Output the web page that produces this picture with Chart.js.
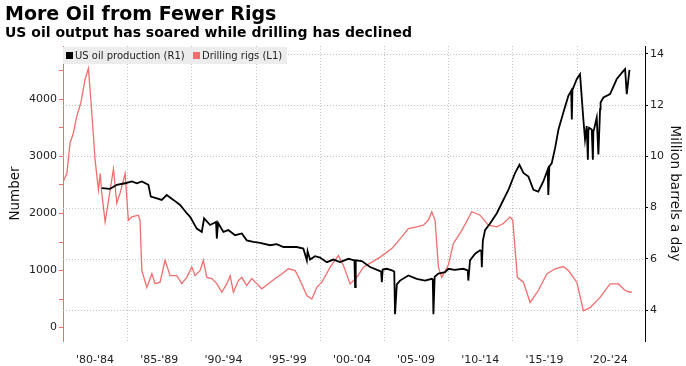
<!DOCTYPE html>
<html><head><meta charset="utf-8">
<script src="https://cdn.jsdelivr.net/npm/chart.js@4.4.1/dist/chart.umd.min.js"></script>
<style>
html,body{margin:0;padding:0;background:#fff;}
#wrap{position:relative;width:686px;height:366px;overflow:hidden;}
#c{position:absolute;left:0;top:0;}
.t1{position:absolute;left:5px;top:2px;font:bold 19px "DejaVu Sans";color:#000;white-space:nowrap;}
.t2{position:absolute;left:5px;top:24px;font:bold 14px "DejaVu Sans";color:#000;white-space:nowrap;}
#leg{position:absolute;left:63px;top:47px;width:224px;height:17px;background:#ececec;font:10px "DejaVu Sans";color:#222;white-space:nowrap;}
#leg span.sq{display:inline-block;width:7px;height:7px;margin-right:2px;vertical-align:0px;}
#leg .it{position:absolute;top:3px;}
</style></head>
<body><div id="wrap">
<canvas id="c" width="686" height="366"></canvas>
<div class="t1">More Oil from Fewer Rigs</div>
<div class="t2">US oil output has soared while drilling has declined</div>
<div id="leg"><span class="it" style="left:3px"><span class="sq" style="background:#000"></span>US oil production (R1)</span><span class="it" style="left:130px"><span class="sq" style="background:#f26d6d"></span>Drilling rigs (L1)</span></div>
</div>
<script>
const xTickLabels = ["'80-'84","'85-'89","'90-'94","'95-'99","'00-'04","'05-'09","'10-'14","'15-'19","'20-'24"];
const xGridYears = [1985,1990,1995,2000,2005,2010,2015,2020];
const rightTicks = [4,6,8,10,12,14];
const rigYears = [1980.0,1980.3,1980.55,1980.8,1981.07,1981.4,1981.72,1981.98,1982.2,1982.5,1982.76,1982.9,1983.0,1983.28,1983.67,1983.93,1984.19,1984.45,1984.84,1985.09,1985.36,1985.87,1986.0,1986.14,1986.53,1986.92,1987.17,1987.56,1987.95,1988.34,1988.86,1989.25,1989.64,1990.03,1990.29,1990.68,1990.93,1991.2,1991.59,1991.98,1992.37,1992.76,1993.02,1993.27,1993.66,1993.93,1994.31,1994.7,1995.09,1995.48,1996.0,1996.52,1997.04,1997.55,1998.08,1998.47,1998.99,1999.38,1999.77,2000.16,2000.81,2001.45,2001.84,2002.36,2002.88,2003.4,2004.7,2005.61,2006.39,2006.9,2007.55,2008.07,2008.46,2008.72,2008.98,2009.24,2009.5,2010.02,2010.4,2011.06,2011.84,2012.48,2013.13,2013.79,2014.3,2014.82,2015.03,2015.39,2015.86,2016.38,2017.02,2017.68,2018.33,2018.97,2019.36,2020.02,2020.53,2021.05,2021.83,2022.61,2023.26,2023.78,2024.16,2024.32];
const rigCounts = [2550,2700,3240,3400,3700,3950,4350,4540,3900,2940,2410,2700,2400,1850,2410,2780,2180,2360,2700,1880,1940,1970,1880,1000,705,945,770,795,1180,910,910,770,880,1060,910,1000,1180,880,860,770,620,770,910,620,825,880,735,860,770,680,770,860,940,1030,1000,825,560,500,705,795,1060,1265,1090,765,880,1060,1235,1385,1590,1735,1765,1795,1885,2030,1880,1060,880,1100,1470,1705,2030,1970,1795,1765,1825,1940,1880,880,795,440,650,940,1030,1070,1000,795,295,350,530,765,765,650,620,625];
const oilYears = [1983.02,1983.67,1984.19,1984.84,1985.36,1985.75,1986.14,1986.65,1986.84,1987.31,1987.69,1988.08,1988.6,1989.12,1989.64,1989.9,1990.42,1990.81,1990.99,1991.46,1991.92,1991.98,1992.08,1992.49,1992.88,1993.4,1993.93,1994.31,1994.83,1995.35,1996.13,1996.65,1997.17,1997.69,1998.21,1998.72,1998.99,1999.05,1999.24,1999.63,2000.02,2000.55,2001.06,2001.58,2002.23,2002.7,2002.75,2002.8,2003.27,2003.92,2004.56,2004.78,2004.83,2004.9,2005.22,2005.61,2005.8,2005.86,2006.0,2006.25,2006.9,2007.55,2008.2,2008.72,2008.8,2008.85,2008.95,2009.24,2009.76,2010.02,2010.5,2011.18,2011.52,2011.57,2011.7,2012.1,2012.48,2012.58,2012.62,2012.7,2012.87,2013.26,2013.79,2014.17,2014.69,2015.21,2015.55,2015.86,2016.25,2016.64,2017.02,2017.41,2017.75,2017.8,2017.88,2018.07,2018.33,2018.59,2018.97,2019.36,2019.58,2019.63,2019.68,2020.02,2020.27,2020.53,2020.66,2020.79,2020.88,2020.92,2020.97,2021.18,2021.27,2021.31,2021.36,2021.57,2021.7,2021.8,2021.83,2021.87,2022.09,2022.61,2023.13,2023.65,2023.78,2023.91,2024.12,2024.17,2024.22];
const oilOutput = [8.76,8.73,8.89,8.95,9.02,8.95,9.02,8.89,8.43,8.36,8.30,8.49,8.30,8.10,7.78,7.64,7.18,7.05,7.58,7.32,7.44,6.79,7.40,7.05,7.12,6.92,6.99,6.72,6.66,6.62,6.53,6.57,6.46,6.46,6.46,6.40,5.94,6.30,5.97,6.10,6.05,5.87,5.97,5.87,6.0,5.94,4.89,5.94,5.91,5.68,5.55,5.50,5.09,5.58,5.61,5.55,5.50,3.84,5.0,5.15,5.35,5.22,5.15,5.22,5.20,3.84,5.30,5.42,5.48,5.61,5.57,5.61,5.55,5.15,5.94,6.20,6.33,6.30,5.67,6.70,7.12,7.38,7.78,8.17,8.69,9.35,9.67,9.35,9.21,8.69,8.62,9.02,9.48,8.49,9.60,9.74,10.33,11.05,11.71,12.36,12.56,11.44,12.60,13.02,13.21,11.44,10.66,11.18,9.87,11.0,11.12,11.05,9.87,11.0,11.05,11.51,10.07,11.40,11.84,12.10,12.30,12.43,13.02,13.34,13.41,12.43,13.38];

const RED = '#f26d6d';
const toPts = (xs, ys) => xs.map((x, i) => ({x: x, y: ys[i]}));

const dottedGrid = {
  id: 'dottedGrid',
  beforeDatasetsDraw(ch) {
    const {ctx, chartArea: a} = ch;
    const x = ch.scales.x, yR = ch.scales.yR;
    ctx.save();
    ctx.strokeStyle = '#c4c4c4';
    ctx.lineWidth = 1;
    ctx.setLineDash([1, 2]);
    rightTicks.forEach(v => {
      const py = Math.round(yR.getPixelForValue(v)) + 0.5;
      ctx.beginPath(); ctx.moveTo(a.left, py); ctx.lineTo(a.right, py); ctx.stroke();
    });
    xGridYears.forEach(v => {
      const px = Math.round(x.getPixelForValue(v)) + 0.5;
      ctx.beginPath(); ctx.moveTo(px, a.top); ctx.lineTo(px, a.bottom); ctx.stroke();
    });
    ctx.restore();
  }
};

new Chart(document.getElementById('c'), {
  type: 'line',
  data: {
    datasets: [
      {label: 'US oil production (R1)', data: toPts(oilYears, oilOutput), yAxisID: 'yR', borderColor: '#000', borderWidth: 1.8, pointRadius: 0, tension: 0},
      {label: 'Drilling rigs (L1)', data: toPts(rigYears, rigCounts), yAxisID: 'yL', borderColor: RED, borderWidth: 1.3, pointRadius: 0, tension: 0}
    ]
  },
  options: {
    responsive: false, animation: false, events: [],
    layout: {padding: {top: 46, left: 0, right: 0, bottom: 0}},
    plugins: {legend: {display: false}, tooltip: {enabled: false}},
    scales: {
      x: {
        type: 'linear', min: 1980, max: 2025.33,
        afterBuildTicks: s => { s.ticks = xTickLabels.map((l, i) => ({value: 1982.5 + 5 * i})); },
        afterFit: s => { s.height = 25; },
        border: {display: false},
        grid: {display: false, drawTicks: false},
        ticks: {autoSkip: false, maxRotation: 0, padding: 13, color: '#222', font: {family: 'DejaVu Sans', size: 11},
          callback: v => { const k = Math.round((v - 1982.5) / 5); return xTickLabels[k] || ''; }}
      },
      yL: {
        position: 'left', min: -235, max: 4935,
        afterBuildTicks: s => { const t = []; for (let v = 0; v <= 4500; v += 500) t.push({value: v}); s.ticks = t; },
        afterFit: s => { s.width = 63; },
        border: {display: true, color: RED, width: 1},
        grid: {drawOnChartArea: false, drawTicks: true, tickLength: 4, tickColor: RED},
        ticks: {autoSkip: false, padding: 2, color: '#222', font: {family: 'DejaVu Sans', size: 11},
          callback: v => (v % 1000 === 0 ? String(v) : '')},
        title: {display: true, text: 'Number', color: '#111', font: {family: 'DejaVu Sans', size: 13.5}, padding: {top: 7, bottom: 0}}
      },
      yR: {
        position: 'right', min: 2.79, max: 14.31,
        afterBuildTicks: s => { s.ticks = rightTicks.map(v => ({value: v})); },
        afterFit: s => { s.width = 41; },
        border: {display: true, color: '#000', width: 1},
        grid: {drawOnChartArea: false, drawTicks: true, tickLength: 3, tickColor: '#000'},
        ticks: {autoSkip: false, padding: 2, color: '#222', font: {family: 'DejaVu Sans', size: 11}},
        title: {display: true, text: 'Million barrels a day', color: '#111', font: {family: 'DejaVu Sans', size: 13.5}, padding: {top: 3, bottom: 0}}
      }
    }
  },
  plugins: [dottedGrid]
});
</script>
</body></html>
